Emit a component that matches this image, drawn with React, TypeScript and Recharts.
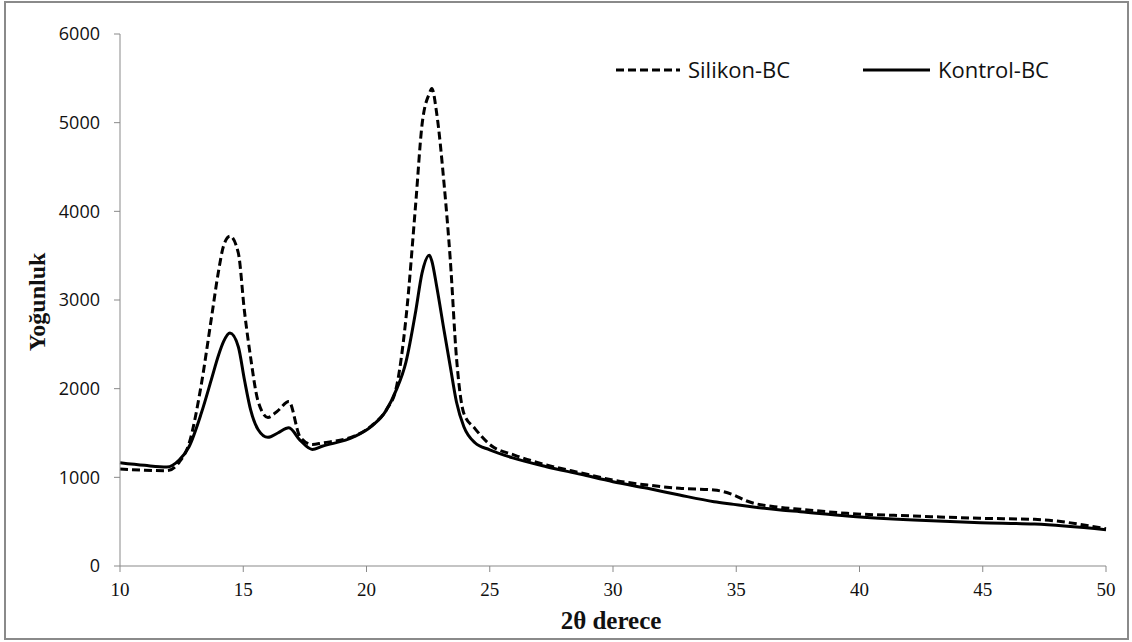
import { Label, Line, LineChart, XAxis, YAxis } from "recharts";

const twoTheta = [
  10, 11, 11.9, 12.4, 12.8, 13.3, 13.7, 14.0, 14.2, 14.46, 14.8, 15.05, 15.3, 15.6, 16.0, 16.4, 16.85, 17.3, 17.8, 18.2,
  19.5, 20.2, 20.8, 21.2, 21.6, 22.0, 22.25, 22.55, 22.65, 22.85, 23.15, 23.4, 23.65, 23.95, 24.4, 25.0, 26.0, 27.3,
  28.7, 30.0, 31.4, 32.7, 34.1, 34.9, 35.4, 36.8, 37.6, 39.5, 42.2, 44.9, 47.1, 50
];
const kontrolBC = [
  1165, 1135, 1116, 1195, 1345, 1725, 2097, 2380, 2530, 2627, 2473, 2097, 1760, 1540, 1451, 1500, 1560, 1420, 1315, 1350,
  1458, 1575, 1755, 1980, 2300, 2880, 3300, 3506, 3440, 3149, 2650, 2247, 1850, 1571, 1390, 1310, 1214, 1120,
  1034, 951, 876, 800, 725, 695, 676, 631, 612, 564, 519, 488, 473, 410
];
const silikonBC = [
  1094, 1080, 1075, 1170, 1380, 2050, 2780, 3330, 3610, 3720, 3530, 2870, 2350, 1860, 1676, 1750, 1855, 1460, 1370, 1387,
  1465, 1580, 1760, 2000, 2790, 4100, 4970, 5330, 5385, 5100, 4300, 3450, 2350, 1721, 1550, 1370, 1251, 1140,
  1050, 970, 913, 876, 857, 800, 736, 661, 640, 594, 564, 538, 526, 420
];
const xTicks = [10, 15, 20, 25, 30, 35, 40, 45, 50];
const yTicks = [0, 1000, 2000, 3000, 4000, 5000, 6000];
const seriesNames = ["Silikon-BC", "Kontrol-BC"];

const data = twoTheta.map((x, i) => ({ x, silikon: silikonBC[i], kontrol: kontrolBC[i] }));

const axisGray = "#898989";
const serif = "'Liberation Serif', 'Times New Roman', serif";
const sans = "'Open Sans', sans-serif";

function Legend() {
  return (
    <svg width={470} height={40} style={{ position: "absolute", left: 610, top: 50 }}>
      <line x1={6} x2={70} y1={20} y2={20} stroke="#000" strokeWidth={3} strokeDasharray="8 4" />
      <text x={78} y={28} fontFamily={sans} fontSize={22} fill="#111">{seriesNames[0]}</text>
      <line x1={253} x2={320} y1={20} y2={20} stroke="#000" strokeWidth={3} />
      <text x={328} y={28} fontFamily={sans} fontSize={22} fill="#111">{seriesNames[1]}</text>
    </svg>
  );
}

export default function App() {
  return (
    <div style={{ position: "absolute", left: 0, top: 0, width: 1132, height: 642, background: "#fff" }}>
      <div
        style={{
          position: "absolute",
          left: 4,
          top: 1,
          width: 1125,
          height: 639,
          boxSizing: "border-box",
          border: "2px solid #8a8a8a"
        }}
      />
      <LineChart width={1132} height={642} data={data} margin={{ top: 34, right: 26, left: 20, bottom: 36 }}>
        <XAxis
          type="number"
          dataKey="x"
          domain={[10, 50]}
          ticks={xTicks}
          height={40}
          stroke={axisGray}
          tickSize={6}
          tickMargin={11}
          tick={{ fill: "#111", fontFamily: serif, fontSize: 19 }}
        >
          <Label
            content={({ viewBox }: any) => (
              <text
                x={viewBox.x + viewBox.width / 2 - 2}
                y={viewBox.y + 63}
                textAnchor="middle"
                fontFamily={serif}
                fontWeight="bold"
                fontSize={25}
                fill="#111"
              >
                2θ derece
              </text>
            )}
          />
        </XAxis>
        <YAxis
          domain={[0, 6000]}
          ticks={yTicks}
          width={100}
          stroke={axisGray}
          tickSize={6}
          tickMargin={14}
          tick={{ fill: "#111", fontFamily: sans, fontSize: 18 }}
        >
          <Label
            content={({ viewBox }: any) => {
              const cx = viewBox.x + 17;
              const cy = viewBox.y + viewBox.height / 2 + 2;
              return (
                <text
                  x={cx}
                  y={cy}
                  transform={`rotate(-90, ${cx}, ${cy})`}
                  textAnchor="middle"
                  dominantBaseline="central"
                  fontFamily={serif}
                  fontWeight="bold"
                  fontSize={24}
                  fill="#111"
                >
                  Yoğunluk
                </text>
              );
            }}
          />
        </YAxis>
        <Line
          type="monotone"
          dataKey="silikon"
          stroke="#000"
          strokeWidth={3}
          strokeDasharray="8 4"
          dot={false}
          isAnimationActive={false}
        />
        <Line type="monotone" dataKey="kontrol" stroke="#000" strokeWidth={3} dot={false} isAnimationActive={false} />
      </LineChart>
      <Legend />
    </div>
  );
}
